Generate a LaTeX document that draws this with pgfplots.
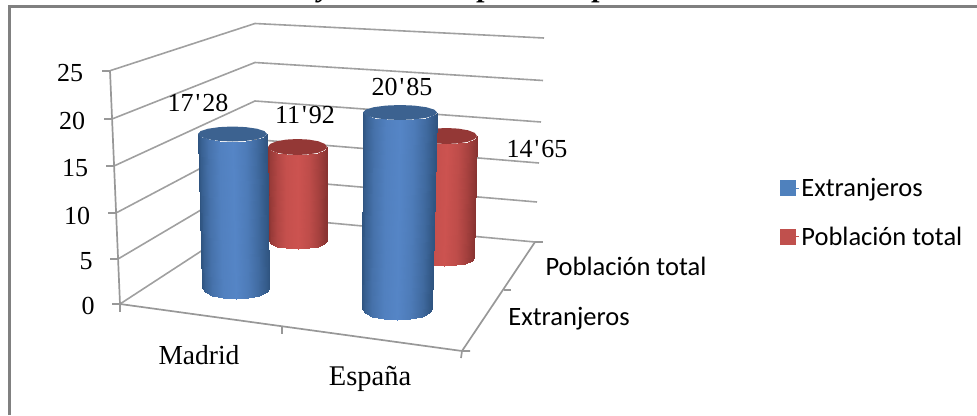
\documentclass[border=0pt]{standalone}
\usepackage{pgfplots}
\pgfplotsset{compat=1.18}
\usepackage{pgfplotstable}
\usepackage{fontspec}
\setmainfont{Liberation Serif}[Ligatures=TeXOff]
\newfontfamily\calfont{Carlito}
\definecolor{gridc}{HTML}{A0A0A0}
\definecolor{axisc}{HTML}{989898}
\definecolor{framec}{HTML}{808080}
\definecolor{bT}{HTML}{3C6290}
\definecolor{rT}{HTML}{943836}
\definecolor{legB}{HTML}{4F81BD}
\definecolor{legR}{HTML}{C0504D}
\pgfplotsset{
  colormap={bluecyl}{rgb255=(47,84,128) rgb255=(85,133,198)},
  colormap={redcyl}{rgb255=(136,51,49) rgb255=(204,83,80)},
  gl/.style={draw=gridc,line width=1.6pt,mark=none,forget plot},
  ax/.style={draw=axisc,line width=1.7pt,mark=none,forget plot},
  blueside/.style={surf,shader=interp,forget plot,mesh/rows=2,mesh/cols=9,point meta=explicit,colormap name=bluecyl},
  redside/.style={surf,shader=interp,forget plot,mesh/rows=2,mesh/cols=9,point meta=explicit,colormap name=redcyl},
  bluetop/.style={draw=none,fill=bT,mark=none,forget plot},
  redtop/.style={draw=none,fill=rT,mark=none,forget plot},
}
\begin{document}
\begin{tikzpicture}
\path[use as bounding box,clip] (0,0) rectangle (977pt,415pt);
\begin{axis}[
  scale only axis,width=977pt,height=415pt,
  xmin=0,xmax=977,ymin=0,ymax=415,y dir=reverse,
  hide axis,clip=false,point meta min=0,point meta max=1,
  legend style={draw=none,fill=none,at={(780/977,1-176/415)},anchor=north west,
    font=\calfont\fontsize{26.5}{30}\selectfont,row sep=25pt,inner sep=0pt,outer sep=0pt},
  legend cell align=left,
  legend image code/.code={\fill[#1] (0pt,-7.5pt) rectangle (15pt,7.5pt);\path (0pt,0pt) -- (19pt,0pt);},
]
% clipped title remains
\node[font=\fontsize{30}{32}\selectfont\itshape\bfseries,anchor=base] at (axis cs:325,-3) {y};
\node[font=\fontsize{30}{32}\selectfont\itshape\bfseries,anchor=base] at (axis cs:486,-3) {p};
\node[font=\fontsize{30}{32}\selectfont\itshape\bfseries,anchor=base] at (axis cs:601,-3) {p};
% frame
\addplot[draw=framec,line width=3pt,mark=none,forget plot] coordinates {(9.5,415) (9.5,6) (977,6)};
% left wall grid
\addplot[gl] coordinates {(110,70.7) (255,23.5) (544,38)};
\addplot[gl] coordinates {(112,119) (255,62.5) (543,80.5)};
\addplot[gl] coordinates {(114,166) (255,101) (541,122)};
\addplot[gl] coordinates {(116,213) (255,139.5) (539,163)};
\addplot[gl] coordinates {(118,259) (255,178) (537,202)};
\addplot[gl] coordinates {(120,304) (255,216) (535,242)};
% axes
\addplot[ax] coordinates {(110,70.7) (120,304)};
\addplot[ax] coordinates {(120,304) (462,351) (535,242)};
\addplot[ax] coordinates {(102,70.7) (110,70.7)};
\addplot[ax] coordinates {(104,119) (112,119)};
\addplot[ax] coordinates {(106,166) (114,166)};
\addplot[ax] coordinates {(108,213) (116,213)};
\addplot[ax] coordinates {(110,259) (118,259)};
\addplot[ax] coordinates {(112,304) (120,304) (120,312)};
\addplot[ax] coordinates {(282,327) (282,334)};
\addplot[ax] coordinates {(470,351) (462,351) (461,358)};
\addplot[ax] coordinates {(504,290) (511,290)};
\addplot[ax] coordinates {(535,242) (543,242)};
% red Madrid
\addplot[redside] coordinates {
 (268,147) [0] (270.2,150.1) [.25] (276.6,152.7) [.6] (286.2,154.4) [.9] (297.5,155) [1] (308.8,154.4) [.8] (318.4,152.7) [.45] (324.8,150.1) [.12] (327,147) [0]
 (268.5,241) [0] (270.7,244.1) [.25] (277,246.7) [.6] (286.4,248.4) [.9] (297.5,249) [1] (308.6,248.4) [.8] (318,246.7) [.45] (324.3,244.1) [.12] (326.5,241) [0]};
\addplot[redtop] coordinates {(327,147) (324.8,150.1) (318.4,152.7) (308.8,154.4) (297.5,155) (286.2,154.4) (276.6,152.7) (270.2,150.1) (268,147) (270.2,143.9) (276.6,141.3) (286.2,139.6) (297.5,139) (308.8,139.6) (318.4,141.3) (324.8,143.9)} -- cycle;
% blue Madrid
\addplot[blueside] coordinates {
 (198,134) [0] (200.6,136.9) [.25] (208.1,139.3) [.6] (219.3,140.9) [.9] (232.5,141.5) [1] (245.7,140.9) [.8] (256.9,139.3) [.45] (264.4,136.9) [.12] (267,134) [0]
 (202,288) [0] (204.5,292.2) [.25] (211.8,295.8) [.6] (222.7,298.2) [.9] (235.5,299) [1] (248.3,298.2) [.8] (259.2,295.8) [.45] (266.5,292.2) [.12] (269,288) [0]};
\addplot[bluetop] coordinates {(267,134) (264.4,136.9) (256.9,139.3) (245.7,140.9) (232.5,141.5) (219.3,140.9) (208.1,139.3) (200.6,136.9) (198,134) (200.6,131.1) (208.1,128.7) (219.3,127.1) (232.5,126.5) (245.7,127.1) (256.9,128.7) (264.4,131.1)} -- cycle;
% red España
\addplot[redside] coordinates {
 (416,136) [0] (418.3,139.1) [.25] (424.9,141.7) [.6] (434.8,143.4) [.9] (446.5,144) [1] (458.2,143.4) [.8] (468.1,141.7) [.45] (474.7,139.1) [.12] (477,136) [0]
 (414,258) [0] (416.3,261.1) [.25] (422.8,263.7) [.6] (432.5,265.4) [.9] (444,266) [1] (455.5,265.4) [.8] (465.2,263.7) [.45] (471.7,261.1) [.12] (474,258) [0]};
\addplot[redtop] coordinates {(477,136) (474.7,139.1) (468.1,141.7) (458.2,143.4) (446.5,144) (434.8,143.4) (424.9,141.7) (418.3,139.1) (416,136) (418.3,132.9) (424.9,130.3) (434.8,128.6) (446.5,128) (458.2,128.6) (468.1,130.3) (474.7,132.9)} -- cycle;
% blue España
\addplot[blueside] coordinates {
 (363,112.5) [0] (365.8,115.4) [.25] (373.8,117.8) [.6] (385.8,119.4) [.9] (400,120) [1] (414.2,119.4) [.8] (426.2,117.8) [.45] (434.2,115.4) [.12] (437,112.5) [0]
 (362,309) [0] (364.7,313.2) [.25] (372.3,316.8) [.6] (383.6,319.2) [.9] (397,320) [1] (410.4,319.2) [.8] (421.7,316.8) [.45] (429.3,313.2) [.12] (432,309) [0]};
\addplot[bluetop] coordinates {(437,112.5) (434.2,115.4) (426.2,117.8) (414.2,119.4) (400,120) (385.8,119.4) (373.8,117.8) (365.8,115.4) (363,112.5) (365.8,109.6) (373.8,107.2) (385.8,105.6) (400,105) (414.2,105.6) (426.2,107.2) (434.2,109.6)} -- cycle;
% data labels
\addplot[draw=none,mark=none,forget plot,point meta=explicit symbolic,nodes near coords,
  nodes near coords align={center},
  every node near coord/.append style={font=\fontsize{26}{28}\selectfont,text=black,inner sep=0pt,anchor=center}]
  table[x=x,y=y,meta=label] {
x y label
198 103 17\kern2pt'\kern2pt28
305 115 11\kern2pt'\kern2pt92
402 87 20\kern2pt'\kern2pt85
537 149 14\kern2pt'\kern2pt65
};
% tick labels
\node[font=\fontsize{26}{28}\selectfont] at (axis cs:70,73) {25};
\node[font=\fontsize{26}{28}\selectfont] at (axis cs:72,121) {20};
\node[font=\fontsize{26}{28}\selectfont] at (axis cs:75,168) {15};
\node[font=\fontsize{26}{28}\selectfont] at (axis cs:77,216) {10};
\node[font=\fontsize{26}{28}\selectfont] at (axis cs:86,261) {5};
\node[font=\fontsize{26}{28}\selectfont] at (axis cs:88,306) {0};
\node[font=\fontsize{27.5}{30}\selectfont] at (axis cs:199,355) {Madrid};
\node[font=\fontsize{28.5}{30}\selectfont] at (axis cs:370,379) {España};
\node[font=\calfont\fontsize{26.5}{30}\selectfont] at (axis cs:626,266) {Población total};
\node[font=\calfont\fontsize{26.5}{30}\selectfont] at (axis cs:569,319) {Extranjeros};
% legend
\addlegendimage{legB}
\addlegendentry{Extranjeros}
\addlegendimage{legR}
\addlegendentry{Población total}
\end{axis}
\end{tikzpicture}
\end{document}
